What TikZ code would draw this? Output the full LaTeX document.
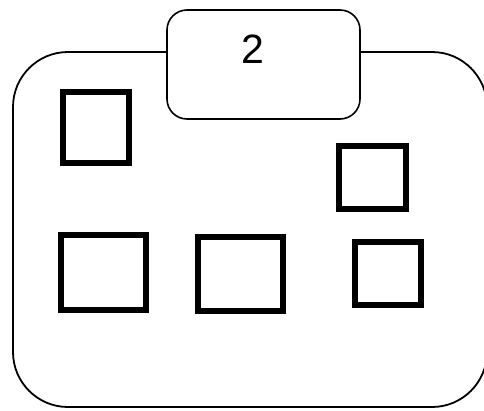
\documentclass[tikz,border=0pt]{standalone}
\usepackage{fontspec}
\setmainfont{Liberation Sans}
\begin{document}
\begin{tikzpicture}[x=1pt,y=-1pt,
  outline/.style={draw=black,line width=1.8pt,fill=white},
  tabbox/.style={draw=black,line width=1.6pt,fill=white,rounded corners=20pt},
  sq/.style={draw=black,line width=5.6pt}]
\useasboundingbox (0,0) rectangle (484,410);
\draw[outline,rounded corners=55pt] (13,52) rectangle (487,407);
\draw[tabbox] (167,10) rectangle (360,119);
\node[font=\fontsize{41}{41}\selectfont,inner sep=0pt] (lbl) at (253,49) {2};
\draw[sq] (62.8,91.8) rectangle (129.2,163.2);
\draw[sq] (338.8,145.8) rectangle (406.2,209.2);
\draw[sq] (60.8,234.8) rectangle (146.2,310.2);
\draw[sq] (197.8,236.8) rectangle (283.2,311.2);
\draw[sq] (354.8,241.8) rectangle (421.2,305.2);
\end{tikzpicture}
\end{document}
